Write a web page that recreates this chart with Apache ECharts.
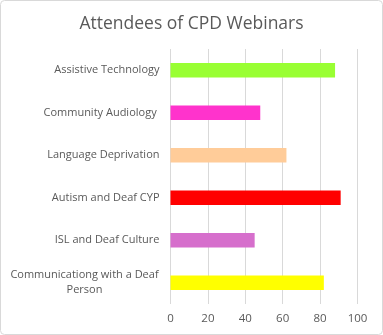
<!DOCTYPE html>
<html><head><meta charset="utf-8">
<script src="https://cdn.jsdelivr.net/npm/echarts@6/dist/echarts.min.js"></script>
<style>html,body{margin:0;padding:0;background:#fff}#c{width:383px;height:335px}</style>
</head><body><div id="c"></div>
<script>
const categories = ["Assistive Technology","Community Audiology ","Language Deprivation","Autism and Deaf CYP","ISL and Deaf Culture","Communicationg with a Deaf Person"];
const attendees = [88,48,62,91,45,82];
const barColors = ["#99FF33","#FF33CC","#FFCC99","#FF0000","#D66FCC","#FFFF00"];
const xTicks = [0,20,40,60,80,100];

const chart = echarts.init(document.getElementById('c'));
chart.setOption({
  animation:false,
  textStyle:{fontFamily:'Open Sans'},
  title:{text:'Attendees of CPD Webinars',left:'center',top:10,textStyle:{fontSize:17.5,fontWeight:'normal',color:'#595959',fontFamily:'Open Sans'}},
  graphic:[{type:'rect',shape:{x:0.5,y:0.5,width:382,height:334,r:4},style:{fill:'none',stroke:'#d9d9d9',lineWidth:1},silent:true}],
  grid:{left:170.5,right:25.5,top:49,bottom:31},
  xAxis:{type:'value',min:xTicks[0],max:xTicks[xTicks.length-1],interval:20,
    axisLine:{show:false},axisTick:{show:false},
    splitLine:{lineStyle:{color:'#d9d9d9'}},
    axisLabel:{color:'#595959',fontSize:11.5,margin:9}},
  yAxis:{type:'category',data:categories,inverse:true,
    axisLine:{show:false},axisTick:{show:false},
    axisLabel:{color:'#595959',fontSize:11,margin:11,lineHeight:15,
      formatter:function(v){
        if(v.length>25){const i=v.lastIndexOf(' ');return '{c|'+v.slice(0,i)+'}\n{c|'+v.slice(i+1)+'}';}
        return v;
      },
      rich:{c:{width:150,align:'center',fontSize:11,color:'#595959',lineHeight:15}}}},
  series:[{type:'bar',data:attendees.map((v,i)=>({value:v,itemStyle:{color:barColors[i]}})),barWidth:14.5}]
});
</script></body></html>
